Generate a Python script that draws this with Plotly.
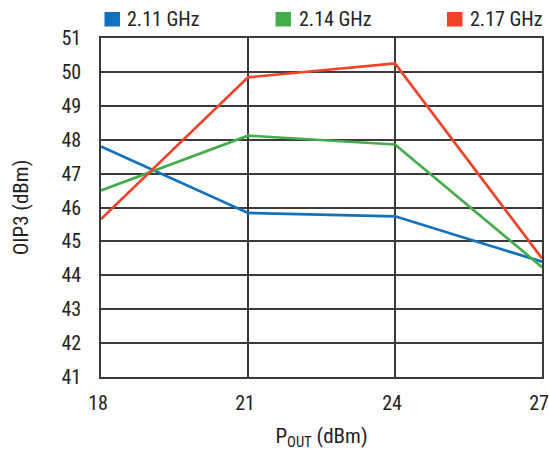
import plotly.graph_objects as go

pout = [18, 21, 24, 27]
series_names = ["2.11 GHz", "2.14 GHz", "2.17 GHz"]
oip3_211 = [47.8, 45.84, 45.74, 44.4]
oip3_214 = [46.5, 48.12, 47.86, 44.24]
oip3_217 = [45.66, 49.84, 50.25, 44.5]
colors = ["#1271bd", "#43ad4b", "#ef4329"]
y_ticks = list(range(41, 52))
x_ticks = [18, 21, 24, 27]

FONT = "Liberation Sans Narrow, Roboto Condensed, DejaVu Sans Condensed, Arial Narrow, sans-serif"
W, H = 549, 451
ML, MR, MT, MB = 101, 7, 38, 74
PW, PH = W - ML - MR, H - MT - MB

def px_x(p):
    return (p - ML) / PW

def px_y(p):
    return (H - MB - p) / PH

fig = go.Figure()
for name, vals, col in zip(series_names, [oip3_211, oip3_214, oip3_217], colors):
    fig.add_trace(go.Scatter(x=pout, y=vals, mode="lines", name=name,
                             line=dict(color=col, width=2.7), showlegend=False))

# custom legend (squares + labels) laid out as in the reference
legend_sq_left = [104.5, 275.5, 447]
legend_txt_left = [125, 297, 468]
for name, col, sx, tx in zip(series_names, colors, legend_sq_left, legend_txt_left):
    fig.add_shape(type="rect", xref="paper", yref="paper",
                  x0=px_x(sx), x1=px_x(sx + 15.5), y0=px_y(26.5), y1=px_y(12),
                  fillcolor=col, line=dict(width=0))
    fig.add_annotation(text=name, xref="paper", yref="paper", x=px_x(tx), y=px_y(19.5),
                       xanchor="left", yanchor="middle", showarrow=False,
                       font=dict(family=FONT, size=20, color="#222222"))

fig.update_layout(
    width=W, height=H,
    margin=dict(l=ML, r=MR, t=MT, b=MB),
    paper_bgcolor="white", plot_bgcolor="white",
    font=dict(family=FONT, size=20, color="#222222"),
    showlegend=False,
    xaxis=dict(range=[18, 27], tickvals=x_ticks, ticktext=[str(v) for v in x_ticks],
               showgrid=True, gridcolor="#3a3a3a", gridwidth=1.5,
               showline=True, linecolor="#3a3a3a", linewidth=1.5, mirror=True,
               zeroline=False, ticks="", ticklabelstandoff=7, automargin=False,
               ticklabeloverflow="allow", ticklabelshift=-3,
               tickfont=dict(size=20),
               title=dict(text="P<sub>OUT</sub> (dBm)", standoff=17, font=dict(size=21))),
    yaxis=dict(range=[41, 51], tickvals=y_ticks, ticktext=[str(v) for v in y_ticks],
               showgrid=True, gridcolor="#3a3a3a", gridwidth=1.5,
               showline=True, linecolor="#3a3a3a", linewidth=1.5, mirror=True,
               zeroline=False, ticks="", ticklabelstandoff=14, automargin=False,
               ticklabeloverflow="allow",
               tickfont=dict(size=20),
               title=dict(text="OIP3 (dBm)", standoff=27, font=dict(size=21))),
)

fig.write_html("out.html", config={"displayModeBar": False})

# remove the default page margin so the figure sits at the window's top-left corner
with open("out.html", "r", encoding="utf-8") as f:
    html = f.read()
html = html.replace("<head>", "<head><style>html,body{margin:0;padding:0;overflow:hidden;}</style>", 1)
with open("out.html", "w", encoding="utf-8") as f:
    f.write(html)
